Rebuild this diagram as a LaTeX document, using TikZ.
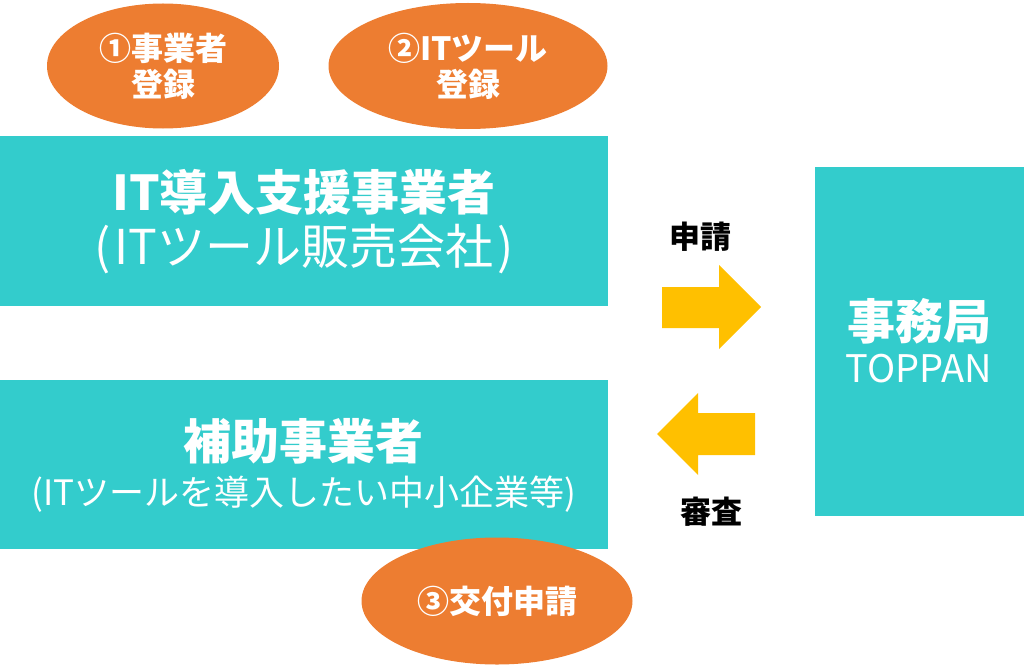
\documentclass[tikz,border=0pt]{standalone}
\usepackage{fontspec}
\setmainfont{Noto Sans CJK JP}
\usetikzlibrary{shapes.geometric}
\definecolor{teal1}{HTML}{33CCCC}
\definecolor{orange1}{HTML}{ED7D31}
\definecolor{yellow1}{HTML}{FFC000}
\tikzset{
  box/.style={fill=teal1, draw=none},
  oval/.style={ellipse, fill=orange1, draw=none, inner sep=0pt, text=white, align=center, font=\bfseries\fontsize{32}{36}\selectfont},
  btitle/.style={text=white, font=\bfseries\fontsize{48}{56}\selectfont, inner sep=0pt},
  bsub/.style={text=white, inner sep=0pt},
  fat/.style={fill=yellow1, draw=none},
  lbl/.style={text=black, font=\bfseries\fontsize{31}{34}\selectfont, inner sep=0pt}
}
\begin{document}
\begin{tikzpicture}[x=1pt,y=-1pt]
\useasboundingbox (0,0) rectangle (1024,666);
% boxes
\fill[box] (0,136) rectangle (608,306);
\fill[box] (0,380) rectangle (608,549);
\fill[box] (815,167) rectangle (1024,516);
% ovals
\node[oval, minimum width=232pt, minimum height=125pt] (o1) at (163,66) {①事業者\\登録};
\node[oval, minimum width=279pt, minimum height=126pt] (o2) at (468,66) {②ITツール\\登録};
\node[oval, minimum width=271pt, minimum height=127pt] (o3) at (497,601) {③交付申請};
% texts
\node[btitle] (t1) at (304,192) {IT導入支援事業者};
\node[bsub, font=\fontsize{48}{54}\selectfont] (s1) at (304,249) {(\hspace{4pt}ITツール販売会社\hspace{4pt})};
\node[btitle] (t2) at (303,441) {補助事業者};
\node[bsub, font=\fontsize{35}{40}\selectfont] (s2) at (304,494) {(ITツールを導入したい中小企業等)};
\node[btitle, font=\bfseries\fontsize{48}{54}\selectfont] (t3) at (919,321) {事務局};
\node[bsub, font=\fontsize{38}{42}\selectfont] (s3) at (919,369) {TOPPAN};
% arrows
\fill[fat] (662,287) -- (719,287) -- (719,265) -- (761,307) -- (719,349) -- (719,328) -- (662,328) -- cycle;
\fill[fat] (755,413) -- (698,413) -- (698,393) -- (657,434) -- (698,475) -- (698,455) -- (755,455) -- cycle;
\node[lbl] (l1) at (700,237) {申請};
\node[lbl] (l2) at (711,512) {審査};
\end{tikzpicture}
\end{document}
